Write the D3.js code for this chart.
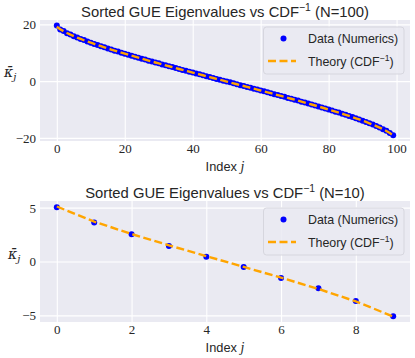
<!DOCTYPE html>
<html><head><meta charset="utf-8">
<script src="https://cdn.jsdelivr.net/npm/d3@7/dist/d3.min.js"></script>
<style>body{margin:0;background:#fff}svg{display:block}</style>
</head><body>
<svg id="chart" width="415" height="358"></svg>
<script>
// ---------- data ----------
const theory100 = [19.18, 18.28, 17.57, 16.95, 16.38, 15.85, 15.35, 14.87, 14.40, 13.96,
  13.53, 13.11, 12.69, 12.29, 11.90, 11.51, 11.13, 10.75, 10.38, 10.02,
  9.66, 9.30, 8.95, 8.60, 8.25, 7.91, 7.57, 7.23, 6.89, 6.56,
  6.23, 5.90, 5.57, 5.24, 4.92, 4.60, 4.27, 3.95, 3.63, 3.31,
  3.00, 2.68, 2.36, 2.05, 1.73, 1.42, 1.10, 0.79, 0.47, 0.16,
  -0.16, -0.47, -0.79, -1.10, -1.42, -1.73, -2.05, -2.36, -2.68, -3.00,
  -3.31, -3.63, -3.95, -4.27, -4.60, -4.92, -5.24, -5.57, -5.90, -6.23,
  -6.56, -6.89, -7.23, -7.57, -7.91, -8.25, -8.60, -8.95, -9.30, -9.66,
  -10.02, -10.38, -10.75, -11.13, -11.51, -11.90, -12.29, -12.69, -13.11, -13.53,
  -13.96, -14.40, -14.87, -15.35, -15.85, -16.38, -16.95, -17.57, -18.28, -19.18];
const data100 = [19.60, 18.20, 17.62, 16.90, 16.41, 15.80, 15.38, 14.83, 14.45, 13.92,
  13.55, 13.08, 12.72, 12.26, 11.91, 11.48, 11.15, 10.73, 10.40, 9.99,
  9.68, 9.28, 8.97, 8.57, 8.27, 7.89, 7.59, 7.21, 6.91, 6.54,
  6.25, 5.88, 5.59, 5.22, 4.94, 4.58, 4.29, 3.93, 3.65, 3.30,
  3.01, 2.66, 2.38, 2.03, 1.75, 1.40, 1.12, 0.77, 0.49, 0.14,
  -0.17, -0.45, -0.80, -1.08, -1.43, -1.71, -2.06, -2.34, -2.70, -2.98,
  -3.33, -3.61, -3.97, -4.25, -4.61, -4.90, -5.26, -5.55, -5.92, -6.21,
  -6.58, -6.87, -7.25, -7.55, -7.93, -8.23, -8.62, -8.93, -9.32, -9.64,
  -10.04, -10.36, -10.78, -11.11, -11.53, -11.88, -12.31, -12.67, -13.13, -13.50,
  -13.98, -14.38, -14.89, -15.32, -15.87, -16.35, -16.97, -17.54, -18.30, -19.10];
const theory10 = [5.10, 3.70, 2.55, 1.50, 0.50, -0.50, -1.50, -2.55, -3.70, -5.10];
const data10 = [5.04, 3.62, 2.52, 1.44, 0.43, -0.50, -1.52, -2.48, -3.66, -5.08];
const xTicks100 = [0, 20, 40, 60, 80, 100];
const yTicks100 = [-20, 0, 20];
const xTicks10 = [0, 2, 4, 6, 8];
const yTicks10 = [-5, 0, 5];
const titleMain = "Sorted GUE Eigenvalues vs CDF";
const legendData = "Data (Numerics)";
const legendTheory = "Theory (CDF";

// ---------- drawing ----------
const svg = d3.select("#chart");
const SANS = "'Liberation Sans', Arial, sans-serif";
const SERIF = "'Liberation Serif', 'Times New Roman', serif";
const fmt = v => (v < 0 ? "\u2212" + Math.abs(v) : String(v));

function pad(ext) { const r = ext[1] - ext[0]; return [ext[0] - 0.05 * r, ext[1] + 0.05 * r]; }

function panel(cfg) {
  const L = 40, R = 410, T = cfg.top, B = cfg.top + 121;
  const n = cfg.data.length;
  const x = d3.scaleLinear().domain(pad([0, n - 1])).range([L, R]);
  const y = d3.scaleLinear().domain(pad(d3.extent(cfg.data.concat(cfg.theory)))).range([B, T]);
  const g = svg.append("g");
  g.append("rect").attr("x", L).attr("y", T).attr("width", R - L).attr("height", B - T).attr("fill", "#eaeaf2");

  // grid
  const xa = d3.axisBottom(x).tickValues(cfg.xTicks).tickSize(-(B - T)).tickPadding(6).tickFormat(fmt);
  const gx = g.append("g").attr("transform", `translate(0,${B})`).call(xa);
  const ya = d3.axisLeft(y).tickValues(cfg.yTicks).tickSize(-(R - L)).tickPadding(4).tickFormat(fmt);
  const gy = g.append("g").attr("transform", `translate(${L},0)`).call(ya);
  [gx, gy].forEach(a => {
    a.select(".domain").remove();
    a.selectAll(".tick line").attr("stroke", "#ffffff").attr("stroke-width", 1.1);
    a.selectAll(".tick text").attr("fill", "#262626").attr("font-family", SERIF).attr("font-size", 13);
  });
  gx.selectAll(".tick text").attr("dy", "0.71em").attr("y", 3);
  gy.selectAll(".tick text").attr("x", -4).attr("dy", "0.34em");

  // data points
  g.append("g").selectAll("circle").data(cfg.data).join("circle")
    .attr("cx", (d, i) => x(i)).attr("cy", d => y(d)).attr("r", 3).attr("fill", "#0000ff");
  // theory line
  g.append("path").datum(cfg.theory)
    .attr("d", d3.line().x((d, i) => x(i)).y(d => y(d)))
    .attr("fill", "none").attr("stroke", "#ffa500").attr("stroke-width", 2.4)
    .attr("stroke-dasharray", "8,3.5");

  // title
  const t = g.append("text").attr("x", (L + R) / 2).attr("y", T - 3.5).attr("text-anchor", "middle")
    .attr("font-family", SANS).attr("font-size", 14.8).attr("fill", "#262626");
  t.append("tspan").text(titleMain);
  t.append("tspan").attr("font-size", 10.4).attr("dy", -5.5).text("\u22121");
  t.append("tspan").attr("dy", 5.5).text(` (N=${n})`);

  // x label
  const xl = g.append("text").attr("x", (L + R) / 2).attr("y", B + 30).attr("text-anchor", "middle")
    .attr("font-family", SANS).attr("font-size", 12.8).attr("fill", "#262626");
  xl.append("tspan").text("Index ");
  xl.append("tspan").attr("font-family", SERIF).attr("font-style", "italic").attr("font-size", 14).text("j");

  // y label
  const yl = g.append("text").attr("x", cfg.ylx).attr("y", (T + B) / 2 - cfg.yly)
    .attr("font-family", "'DejaVu Serif', serif").attr("font-style", "italic").attr("fill", "#262626");
  yl.append("tspan").attr("font-size", 14).text("\u03ba\u0304");
  yl.append("tspan").attr("font-size", 10).attr("dy", 3).text("j");

  // legend
  const lg = g.append("g");
  lg.append("rect").attr("x", 263.5).attr("y", T + 7).attr("width", 140.5).attr("height", 47).attr("rx", 3)
    .attr("fill", "#eaeaf2").attr("fill-opacity", 0.85).attr("stroke", "#d6d6de").attr("stroke-width", 1);
  lg.append("circle").attr("cx", 283.5).attr("cy", T + 18.5).attr("r", 3).attr("fill", "#0000ff");
  lg.append("line").attr("x1", 268).attr("x2", 296).attr("y1", T + 41).attr("y2", T + 41)
    .attr("stroke", "#ffa500").attr("stroke-width", 2.4).attr("stroke-dasharray", "8,3.5");
  lg.append("text").attr("x", 308).attr("y", T + 23).attr("font-family", SANS).attr("font-size", 12.4)
    .attr("fill", "#262626").text(legendData);
  const lt = lg.append("text").attr("x", 308).attr("y", T + 45.5).attr("font-family", SANS).attr("font-size", 12.4)
    .attr("fill", "#262626");
  lt.append("tspan").text(legendTheory);
  lt.append("tspan").attr("font-size", 8.7).attr("dy", -4.5).text("\u22121");
  lt.append("tspan").attr("dy", 4.5).text(")");
}

panel({ top: 20, data: data100, theory: theory100, xTicks: xTicks100, yTicks: yTicks100, ylx: 4, yly: 4 });
panel({ top: 201, data: data10, theory: theory10, xTicks: xTicks10, yTicks: yTicks10, ylx: 8, yly: 3 });
</script>
</body></html>
